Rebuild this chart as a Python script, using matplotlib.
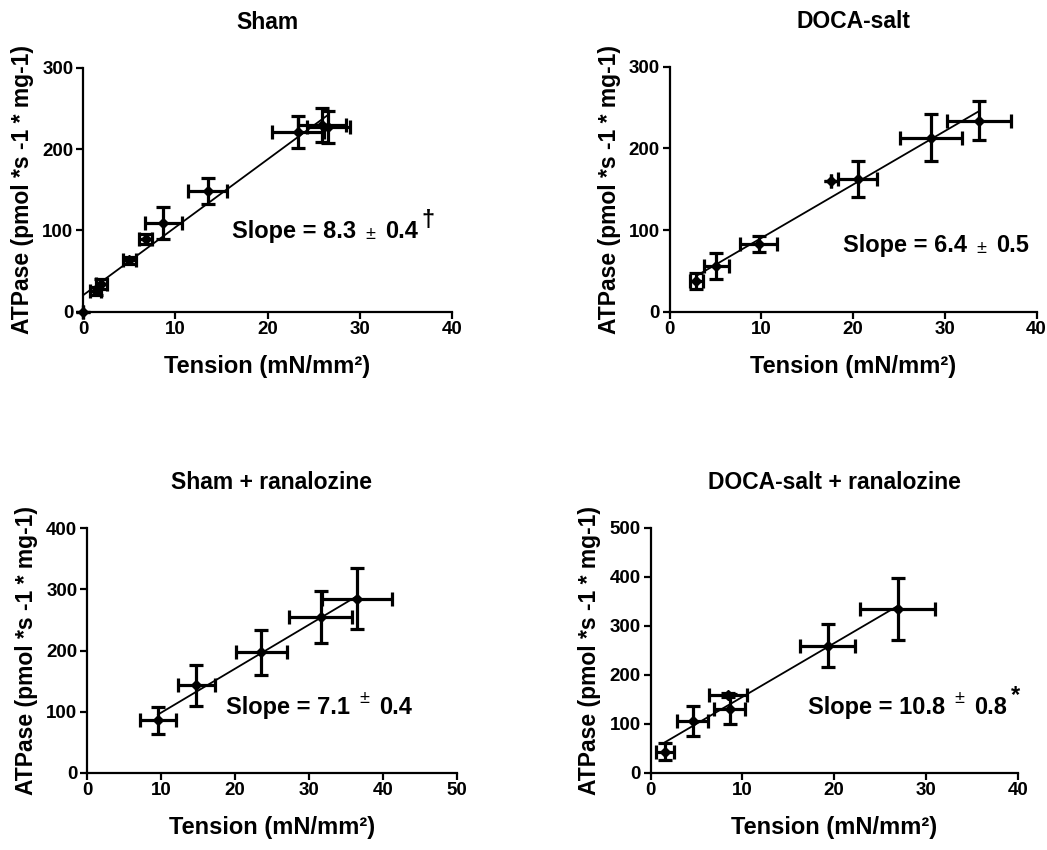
import numpy as np
import matplotlib.pyplot as plt

plt.rcParams['font.family'] = ['Liberation Sans', 'DejaVu Sans']
plt.rcParams['font.weight'] = 'bold'

# Sham
sham_x = [0, 1.4, 2.0, 5.0, 6.8, 8.7, 13.5, 23.3, 25.9, 26.6]
sham_y = [0, 25, 34, 63, 89, 109, 149, 221, 230, 227]
sham_xerr = [0, 0.6, 0.6, 0.7, 0.7, 2.0, 2.1, 2.8, 2.6, 2.3]
sham_yerr = [0, 5, 6, 4, 6, 20, 16, 20, 21, 20]

# DOCA-salt
doca_x = [2.9, 5.1, 9.7, 17.6, 20.5, 28.5, 33.7]
doca_y = [38, 56, 83, 160, 162, 213, 234]
doca_xerr = [0.7, 1.4, 2.0, 0, 2.1, 3.4, 3.5]
doca_yerr = [10, 16, 10, 0, 22, 29, 24]

# Sham + ranalozine
shamr_x = [9.6, 14.8, 23.6, 31.6, 36.5]
shamr_y = [86, 143, 197, 255, 285]
shamr_xerr = [2.4, 2.5, 3.5, 4.3, 4.75]
shamr_yerr = [22, 34, 37, 43, 50]

# DOCA-salt + ranalozine
docar_x = [1.6, 4.6, 8.4, 8.6, 19.3, 26.9]
docar_y = [43, 106, 159, 130, 259, 334]
docar_xerr = [1.0, 1.7, 2.05, 1.7, 3.0, 4.1]
docar_yerr = [18, 31, 4, 30, 44, 63]

titles = ["Sham", "DOCA-salt", "Sham + ranalozine", "DOCA-salt + ranalozine"]
slopes = ["8.3", "6.4", "7.1", "10.8"]
slope_err = ["0.4", "0.5", "0.4", "0.8"]
marks = ["\u2020", "", "", "*"]
xmaxs = [40, 40, 50, 40]
ymaxs = [300, 300, 400, 500]
text_pos = [(16.1, 98), (18.9, 81), (18.8, 107), (17.1, 134)]
pm_raised = [False, False, True, True]

W, H = 1047, 850
# axes boxes in pixels: left, right, bottom(y of 0), top(y of max)
boxes = [(83, 452, 311.7, 67.7), (669.7, 1036.5, 311.7, 66.7),
         (87, 456.6, 772.7, 528.3), (650.5, 1018, 772.7, 527.7)]

data = [(sham_x, sham_y, sham_xerr, sham_yerr),
        (doca_x, doca_y, doca_xerr, doca_yerr),
        (shamr_x, shamr_y, shamr_xerr, shamr_yerr),
        (docar_x, docar_y, docar_xerr, docar_yerr)]

fig = plt.figure(figsize=(W / 100, H / 100), dpi=100)

for i in range(4):
    l, r, b, t = boxes[i]
    ax = fig.add_axes([l / W, 1 - b / H, (r - l) / W, (b - t) / H])
    x, y, xe, ye = data[i]
    x = np.array(x, dtype=float)
    y = np.array(y, dtype=float)

    # regression line over the data range
    k, c = np.polyfit(x, y, 1)
    xs = np.array([x.min(), x.max()])
    ax.plot(xs, k * xs + c, color='black', lw=1.3, zorder=2)

    ax.errorbar(x, y, xerr=xe, yerr=ye, fmt='D', color='black', ms=5,
                elinewidth=2.3, capsize=5, capthick=2.3, zorder=3, clip_on=False)

    ax.set_xlim(0, xmaxs[i])
    ax.set_ylim(0, ymaxs[i])
    ax.set_xticks(np.arange(0, xmaxs[i] + 1, 10))
    ax.set_yticks(np.arange(0, ymaxs[i] + 1, 100))
    for s in ['top', 'right']:
        ax.spines[s].set_visible(False)
    for s in ['left', 'bottom']:
        ax.spines[s].set_linewidth(1.6)
    ax.tick_params(width=1.6, length=5, labelsize=13.5, pad=2)
    for lab in ax.get_xticklabels() + ax.get_yticklabels():
        lab.set_fontweight('bold')

    ax.set_title(titles[i], fontsize=16.5, fontweight='bold', pad=28)
    ax.set_xlabel("Tension (mN/mm\u00b2)", fontsize=17, fontweight='bold', labelpad=12)
    ax.set_ylabel("ATPase (pmol *s -1 * mg-1)", fontsize=16.5, fontweight='bold', labelpad=6)

    tx, ty = text_pos[i]
    t1 = ax.text(tx, ty, "Slope = " + slopes[i], fontsize=17, fontweight='bold',
                 va='center', ha='left')
    if pm_raised[i]:
        ax.annotate("\u00b1", xy=(1, 0.5), xycoords=t1, xytext=(7, 0),
                    textcoords='offset points', fontsize=13, fontweight='normal',
                    va='bottom', ha='left')
    else:
        ax.annotate("\u00b1", xy=(1, 0.0), xycoords=t1, xytext=(7, 0),
                    textcoords='offset points', fontsize=13, fontweight='normal',
                    va='bottom', ha='left')
    t3 = ax.annotate(slope_err[i], xy=(1, 0), xycoords=t1, xytext=(21, 0),
                     textcoords='offset points', fontsize=17, fontweight='bold',
                     va='bottom', ha='left')
    if marks[i]:
        ax.annotate(marks[i], xy=(1, 0.5), xycoords=t3, xytext=(3, 0),
                    textcoords='offset points', fontsize=17, fontweight='bold',
                    va='bottom', ha='left')

fig.savefig("out.png", dpi=100)
